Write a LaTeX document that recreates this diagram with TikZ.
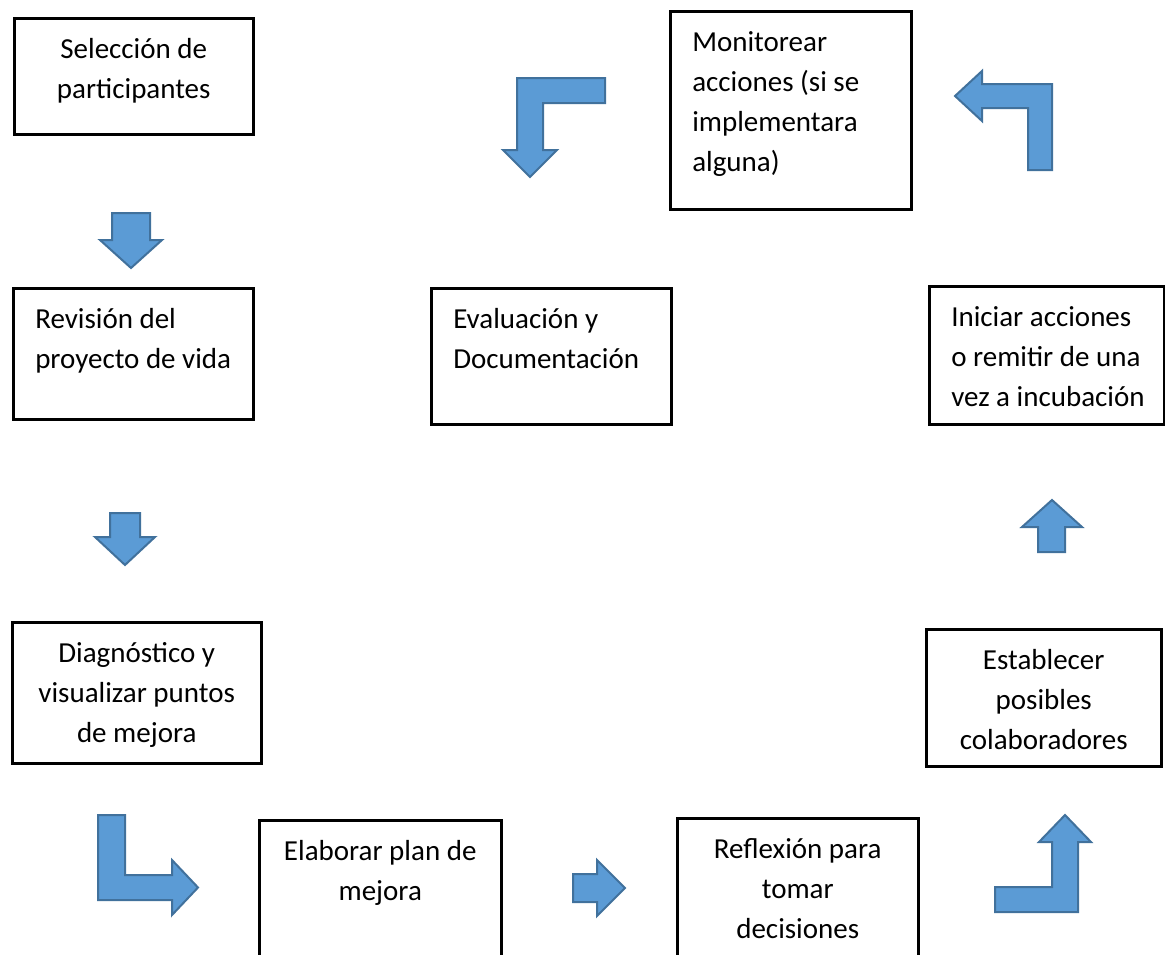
\documentclass[tikz,border=0pt]{standalone}
\usepackage{fontspec}
\setmainfont{Carlito}
\definecolor{arrfill}{HTML}{5B9BD5}
\definecolor{arrline}{HTML}{41719C}
\tikzset{
  blockarrow/.style={fill=arrfill, draw=arrline, line width=2pt, line join=miter},
  stepbox/.style={draw=black, line width=2.5pt, inner sep=0pt, anchor=north west, font=\fontsize{29}{40}\selectfont},
}
\newcommand{\ctext}[3]{\parbox[t][#2pt][t]{#1pt}{\vspace*{12pt}\centering #3}}
\newcommand{\ltext}[3]{\hspace*{22pt}\parbox[t][#2pt][t]{\dimexpr#1pt-22pt\relax}{\vspace*{12pt}\raggedright #3}}
\begin{document}
\begin{tikzpicture}[x=1pt,y=-1pt]
\useasboundingbox (0,0) rectangle (1165,954);
\fill[white] (0,0) rectangle (1165,954);
\begin{scope}
\clip (0,0) rectangle (1165,954);
% boxes
\node[stepbox] (sel) at (13,17) {\ctext{239}{116}{\strut Selección de\\\strut participantes}};
\node[stepbox] (rev) at (12,287) {\ltext{240}{131}{\strut Revisión del\\\strut proyecto de vida}};
\node[stepbox] (diag) at (11,621) {\ctext{249}{141}{\strut Diagnóstico y\\\strut visualizar puntos\\\strut de mejora}};
\node[stepbox] (elab) at (258,819) {\ctext{242}{160}{\strut Elaborar plan de\\\strut mejora}};
\node[stepbox] (refl) at (676,817) {\ctext{241}{160}{\strut Reflexión para\\\strut tomar\\\strut decisiones}};
\node[stepbox] (est) at (925,628) {\ctext{235}{137}{\strut Establecer\\\strut posibles\\\strut colaboradores}};
\node[stepbox] (ini) at (928,285) {\ltext{235}{138}{\strut Iniciar acciones\\\strut o remitir de una\\\strut vez a incubación}};
\node[stepbox] (eva) at (430,287) {\ltext{240}{136}{\strut Evaluación y\\\strut Documentación}};
\node[stepbox] (mon) at (669,10) {\ltext{241}{198}{\strut Monitorear\\\strut acciones (si se\\\strut implementara\\\strut alguna)}};
% block arrows
\draw[blockarrow] (112,213) -- (150,213) -- (150,240) -- (162,240) -- (131,268) -- (100,240) -- (112,240) -- cycle;
\draw[blockarrow] (110,513) -- (140,513) -- (140,537) -- (155,537) -- (125,565) -- (95,537) -- (110,537) -- cycle;
\draw[blockarrow] (1038,552) -- (1065,552) -- (1065,527) -- (1082,527) -- (1052,500) -- (1022,527) -- (1038,527) -- cycle;
\draw[blockarrow] (573,874) -- (597,874) -- (597,860) -- (625,888) -- (597,916) -- (597,902) -- (573,902) -- cycle;
\draw[blockarrow] (98,815) -- (125,815) -- (125,875) -- (172,875) -- (172,860) -- (198,887.5) -- (172,915) -- (172,900) -- (98,900) -- cycle;
\draw[blockarrow] (995,887) -- (1052,887) -- (1052,842) -- (1039,842) -- (1065,815) -- (1091,842) -- (1078,842) -- (1078,912) -- (995,912) -- cycle;
\draw[blockarrow] (605,78) -- (605,103) -- (543,103) -- (543,150) -- (557,150) -- (530,177) -- (503,150) -- (517,150) -- (517,78) -- cycle;
\draw[blockarrow] (955,96) -- (982,71) -- (982,84) -- (1052,84) -- (1052,170) -- (1028,170) -- (1028,108) -- (982,108) -- (982,121) -- cycle;
\end{scope}
\end{tikzpicture}
\end{document}
